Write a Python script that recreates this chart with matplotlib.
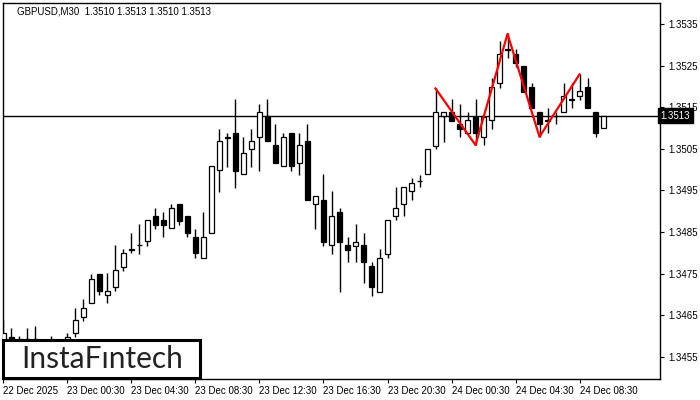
import numpy as np
import matplotlib
matplotlib.use("Agg")
from matplotlib import pyplot as plt
from matplotlib.patches import Rectangle

# GBPUSD M30 candles, 22 Dec 20:30 .. 24 Dec 10:00
opens = [1.34585, 1.34597, 1.34592, 1.34588, 1.34592, 1.34585, 1.34580, 1.34585, 1.34590, 1.34606,
         1.34646, 1.34679, 1.34749, 1.34698, 1.34717, 1.34767, 1.34807, 1.34818, 1.34828, 1.34888,
         1.34878, 1.34859, 1.34917, 1.34888, 1.34837, 1.34787, 1.34847, 1.34999, 1.35077, 1.35087,
         1.34989, 1.35049, 1.35078, 1.35128, 1.35058, 1.35008, 1.35087, 1.35017, 1.35068, 1.34917,
         1.34928, 1.34818, 1.34897, 1.34819, 1.34817, 1.34819, 1.34768, 1.34706, 1.34798, 1.34888,
         1.34917, 1.34948, 1.34972, 1.34989, 1.35057, 1.35128, 1.35138, 1.35109, 1.35087, 1.35127,
         1.35078, 1.35119, 1.35207, 1.35288, 1.35277, 1.35249, 1.35198, 1.35138, 1.35118, 1.35128,
         1.35138, 1.35168, 1.35178, 1.35198, 1.35138, 1.35100]
highs = [1.34638, 1.34619, 1.34600, 1.34619, 1.34624, 1.34590, 1.34599, 1.34592, 1.34606, 1.34667,
         1.34688, 1.34749, 1.34749, 1.34751, 1.34819, 1.34808, 1.34847, 1.34869, 1.34878, 1.34908,
         1.34898, 1.34917, 1.34917, 1.34888, 1.34858, 1.34898, 1.35009, 1.35098, 1.35087, 1.35169,
         1.35078, 1.35097, 1.35158, 1.35169, 1.35109, 1.35087, 1.35087, 1.35087, 1.35109, 1.34937,
         1.34989, 1.34949, 1.34907, 1.34838, 1.34869, 1.34847, 1.34777, 1.34808, 1.34878, 1.34958,
         1.34957, 1.34979, 1.34987, 1.35050, 1.35195, 1.35138, 1.35169, 1.35158, 1.35138, 1.35169,
         1.35127, 1.35219, 1.35309, 1.35328, 1.35289, 1.35249, 1.35207, 1.35138, 1.35147, 1.35138,
         1.35207, 1.35207, 1.35229, 1.35219, 1.35138, 1.35130]
lows = [1.34570, 1.34585, 1.34575, 1.34570, 1.34570, 1.34565, 1.34570, 1.34572, 1.34585, 1.34597,
        1.34636, 1.34679, 1.34698, 1.34679, 1.34707, 1.34757, 1.34799, 1.34797, 1.34817, 1.34858,
        1.34837, 1.34859, 1.34868, 1.34837, 1.34787, 1.34787, 1.34847, 1.34947, 1.35007, 1.34956,
        1.34989, 1.35007, 1.34997, 1.35068, 1.35017, 1.35008, 1.34997, 1.34988, 1.34928, 1.34858,
        1.34817, 1.34798, 1.34706, 1.34777, 1.34777, 1.34727, 1.34697, 1.34706, 1.34787, 1.34878,
        1.34888, 1.34928, 1.34958, 1.34989, 1.35050, 1.35067, 1.35118, 1.35078, 1.35087, 1.35058,
        1.35058, 1.35097, 1.35197, 1.35268, 1.35247, 1.35187, 1.35147, 1.35079, 1.35087, 1.35109,
        1.35138, 1.35147, 1.35168, 1.35147, 1.35078, 1.35100]
closes = [1.34606, 1.34592, 1.34588, 1.34592, 1.34585, 1.34580, 1.34585, 1.34590, 1.34597, 1.34638,
          1.34667, 1.34736, 1.34707, 1.34707, 1.34758, 1.34799, 1.34808, 1.34819, 1.34878, 1.34868,
          1.34868, 1.34908, 1.34877, 1.34847, 1.34799, 1.34837, 1.35009, 1.35068, 1.35078, 1.34997,
          1.35039, 1.35068, 1.35138, 1.35068, 1.35017, 1.35078, 1.35008, 1.35058, 1.34928, 1.34937,
          1.34827, 1.34888, 1.34827, 1.34807, 1.34827, 1.34777, 1.34717, 1.34787, 1.34878, 1.34907,
          1.34957, 1.34967, 1.34973, 1.35050, 1.35138, 1.35138, 1.35118, 1.35097, 1.35119, 1.35087,
          1.35127, 1.35198, 1.35277, 1.35289, 1.35257, 1.35187, 1.35147, 1.35109, 1.35119, 1.35129,
          1.35178, 1.35169, 1.35188, 1.35147, 1.35087, 1.35130]

# pattern zigzag (bar index, price)
pattern_idx = [54, 59, 63, 67, 72]
pattern_px = [1.35195, 1.35059, 1.35326, 1.35079, 1.35229]

tick_labels = ["22 Dec 2025", "23 Dec 00:30", "23 Dec 04:30", "23 Dec 08:30", "23 Dec 12:30",
               "23 Dec 16:30", "23 Dec 20:30", "24 Dec 00:30", "24 Dec 04:30", "24 Dec 08:30"]
price_ticks = [1.3455, 1.3465, 1.3475, 1.3485, 1.3495, 1.3505, 1.3515, 1.3525, 1.3535]
last_price = 1.3513
title = "GBPUSD,M30  1.3510 1.3513 1.3510 1.3513"

plt.rcParams['font.family'] = ['Liberation Sans', 'DejaVu Sans']

fig = plt.figure(figsize=(7, 4), dpi=100)
ax = fig.add_axes([3/700, 21/400, 657/700, 376/400])

o = np.array(opens)
h = np.array(highs)
l = np.array(lows)
c = np.array(closes)
x = np.arange(len(o))

ax.vlines(x, l, h, color='k', lw=1, zorder=2)
up = c >= o
ax.bar(x, np.abs(c - o), bottom=np.minimum(o, c), width=0.55,
       color=np.where(up, 'white', 'black'), edgecolor='k', linewidth=0.9, zorder=3)

ax.axhline(last_price, color='k', lw=1, zorder=1)
ax.plot(pattern_idx, pattern_px, color='#ff0000', lw=1.6, zorder=4)

ax.set_xlim(-0.06, 82.06)
ax.set_ylim(1.344966, 1.354005)

ax.set_xticks(x[::8][:len(tick_labels)])
ax.set_xticklabels(tick_labels, ha='left', fontsize=7)
ax.tick_params(axis='x', length=3, width=0.8, pad=2)

ax.yaxis.tick_right()
ax.set_yticks(price_ticks)
ax.set_yticklabels([f"{p:.4f}" for p in price_ticks], fontsize=7)
ax.tick_params(axis='y', length=3, width=0.8, pad=3)

for s in ax.spines.values():
    s.set_linewidth(1)

# current price box on the right axis
ax.text(1.001, last_price, f"{last_price:.4f}", transform=ax.get_yaxis_transform(),
        fontsize=7, color='white', va='center', ha='left', zorder=10, clip_on=False,
        bbox=dict(boxstyle='square,pad=0.25', fc='black', ec='black'))

fig.text(17/700, 1 - 11/400, title, fontsize=7, va='center', ha='left')

# logo box
logo = Rectangle((3/700, 22/400), 197/700, 38/400, transform=fig.transFigure,
                 facecolor='white', edgecolor='black', linewidth=2.2, zorder=20)
fig.patches.append(logo)
fig.text(102/700, 41/400, "InstaF\u0131ntech", fontsize=21.5, color='#222222',
         ha='center', va='center', family=['Lato', 'DejaVu Sans'], zorder=21)

fig.savefig('out.png', dpi=100)
